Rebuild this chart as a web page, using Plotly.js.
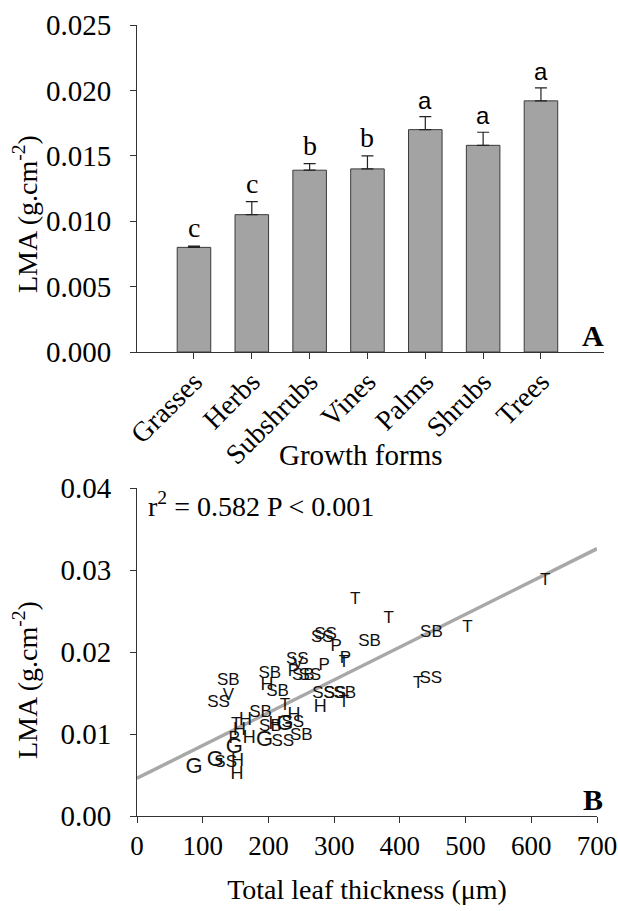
<!DOCTYPE html>
<html>
<head>
<meta charset="utf-8">
<script src="https://cdn.plot.ly/plotly-3.0.1.min.js"></script>
<style>html,body{margin:0;padding:0;background:#fff}#chart{width:618px;height:911px}</style>
</head>
<body>
<div id="chart"></div>
<script>
// ---- Panel A data ----
const forms = ["Grasses","Herbs","Subshrubs","Vines","Palms","Shrubs","Trees"];
const lmaMean = [0.0080,0.0105,0.0139,0.0140,0.0170,0.0158,0.0192];
const lmaErr  = [0.0001,0.0010,0.0005,0.0010,0.0010,0.0010,0.0010];
const groupLetters = ["c","c","b","b","a","a","a"];

// ---- Panel B data ----
const thickness = [87,119,135,153,152,148,148,171,156,151,165,188,124,139,139,202,198,214,225,194,222,250,203,210,225,237,239,244,245,238,253,263,285,287,282,303,317,315,284,301,316,315,279,332,383,354,448,503,621,428,447];
const lmaPoint  = [0.0059,0.0068,0.0065,0.0066,0.0051,0.0083,0.0094,0.0094,0.0104,0.0111,0.0117,0.0126,0.0138,0.0147,0.0165,0.0174,0.0159,0.0152,0.0135,0.0092,0.0091,0.0098,0.0109,0.0111,0.0112,0.0114,0.0122,0.0190,0.0186,0.0176,0.0171,0.0171,0.0183,0.0221,0.0217,0.0207,0.0192,0.0187,0.0149,0.0149,0.0149,0.0138,0.0132,0.0264,0.0241,0.0213,0.0223,0.0230,0.0287,0.0161,0.0167];
const formCode  = ["G","G","SS","H","H","G","P","H","H","T","H","SB","SS","V","SB","SB","H","SB","T","G","SS","SB","SB","H","G","SS","H","SS","V","P","SB","SS","P","SS","SS","P","P","T","SS","SS","SB","T","H","T","T","SB","SB","T","T","T","SS"];
const fitIntercept = 0.0046;
const fitSlope = 0.0000400;
const fitX = [0, 700];
const statText = "r<sup>2</sup> = 0.582 P < 0.001";
const yTitle = "LMA (g.cm<sup>-2</sup>)";
const xTitleA = "Growth forms";
const xTitleB = "Total leaf thickness (μm)";

const serif = "Liberation Serif, Times New Roman, serif";
const sans = "Liberation Sans, Arial, sans-serif";
const codeSize = {G:22, H:18, SS:17, SB:17, T:17, P:17, V:17};

const traces = [
  {
    type:"bar", x: forms, y: lmaMean, xaxis:"x", yaxis:"y",
    width: 0.58,
    marker:{color:"#a3a3a3", line:{color:"#3a3a3a", width:1}},
    error_y:{type:"data", symmetric:false, array:lmaErr, arrayminus:lmaErr.map(()=>0), color:"#222", thickness:1.2, width:6},
    hoverinfo:"skip"
  },
  {
    type:"scatter", mode:"lines", x: fitX, y: fitX.map(v=>fitIntercept+fitSlope*v),
    xaxis:"x2", yaxis:"y2", line:{color:"#a8a8a8", width:3.5}, hoverinfo:"skip"
  },
  {
    type:"scatter", mode:"text", x: thickness, y: lmaPoint, text: formCode,
    xaxis:"x2", yaxis:"y2",
    textposition:"middle center",
    textfont:{family:sans, size: formCode.map(c=>codeSize[c]), color:"#111"},
    hoverinfo:"skip"
  }
];

const annotations = forms.map((f,i)=>({
  x:f, y: lmaMean[i]+lmaErr[i], xref:"x", yref:"y",
  text: groupLetters[i], showarrow:false, yanchor:"bottom", yshift:1,
  font:{family: groupLetters[i]==="a" ? sans : serif, size: groupLetters[i]==="a" ? 24 : 28, color:"#000"}
}));
annotations.push(
  {x:1, y:0, xref:"x domain", yref:"y domain", text:"<b>A</b>", showarrow:false, xanchor:"right", yanchor:"bottom", xshift:2, yshift:-2, font:{family:serif, size:30, color:"#000"}},
  {x:1, y:0, xref:"x2 domain", yref:"y2 domain", text:"<b>B</b>", showarrow:false, xanchor:"right", yanchor:"bottom", xshift:8, yshift:-2, font:{family:serif, size:30, color:"#000"}},
  {x:0.02, y:0.95, xref:"x2 domain", yref:"y2 domain", text: statText, showarrow:false, xanchor:"left", yanchor:"middle", font:{family:serif, size:28, color:"#000"}},
  {x:361/618, y:1-455/911, xref:"paper", yref:"paper", text: xTitleA, showarrow:false, xanchor:"center", yanchor:"middle", font:{family:serif, size:29, color:"#000"}},
  {x:25/618, y:1-214/911, xref:"paper", yref:"paper", text: yTitle, textangle:-90, showarrow:false, xanchor:"center", yanchor:"middle", font:{family:serif, size:28, color:"#000"}},
  {x:25/618, y:1-680/911, xref:"paper", yref:"paper", text: yTitle, textangle:-90, showarrow:false, xanchor:"center", yanchor:"middle", font:{family:serif, size:28, color:"#000"}}
);

const axisCommon = {showgrid:false, zeroline:false, showline:true, linecolor:"#333", linewidth:1, ticks:"outside", ticklen:6, tickcolor:"#333"};

const layout = {
  width:618, height:911,
  margin:{l:0, r:0, t:0, b:0},
  paper_bgcolor:"#fff", plot_bgcolor:"#fff",
  showlegend:false,
  xaxis: Object.assign({}, axisCommon, {
    domain:[137/618, 604/618], anchor:"y", type:"category",
    range:[-0.985, 7.09], tickangle:-45,
    ticklabelstandoff:-5,
    tickfont:{family:serif, size:28, color:"#000"}
  }),
  yaxis: Object.assign({}, axisCommon, {
    domain:[1-352/911, 1-25/911], anchor:"x",
    range:[0, 0.025], tickvals:[0,0.005,0.01,0.015,0.02,0.025], tickformat:".3f",
    ticklabelstandoff:13,
    tickfont:{family:serif, size:29, color:"#000"}
  }),
  xaxis2: Object.assign({}, axisCommon, {
    domain:[137/618, 597/618], anchor:"y2",
    range:[0, 700], tickvals:[0,100,200,300,400,500,600,700],
    tickfont:{family:serif, size:27, color:"#000"},
    title:{text: xTitleB, font:{family:serif, size:28, color:"#000"}, standoff:18}
  }),
  yaxis2: Object.assign({}, axisCommon, {
    domain:[1-816/911, 1-488/911], anchor:"x2",
    range:[0, 0.04], tickvals:[0,0.01,0.02,0.03,0.04], tickformat:".2f",
    ticklabelstandoff:13,
    tickfont:{family:serif, size:29, color:"#000"}
  }),
  annotations: annotations
};

Plotly.newPlot("chart", traces, layout, {staticPlot:true, displayModeBar:false});
</script>
</body>
</html>
